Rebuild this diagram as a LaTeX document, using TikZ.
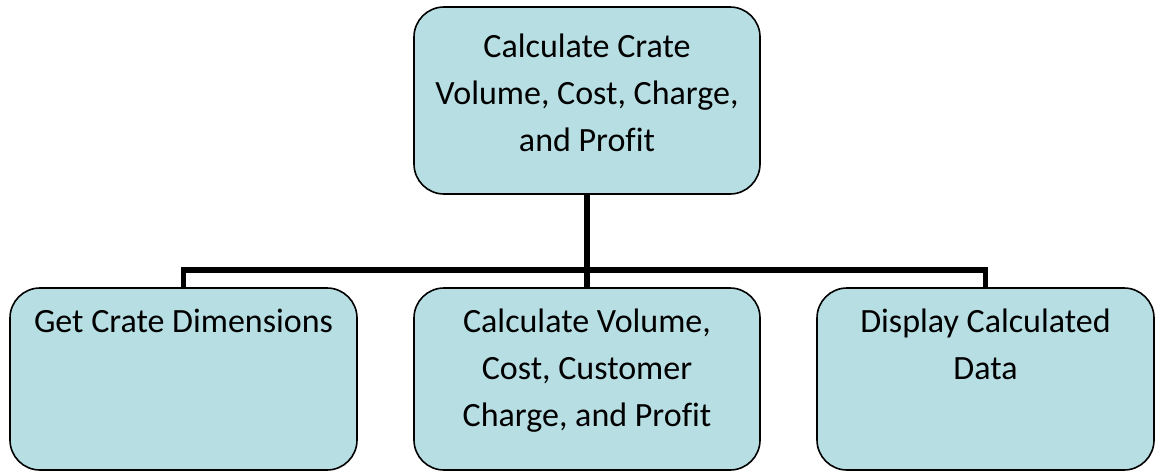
\documentclass[tikz,border=0pt]{standalone}
\usepackage{fontspec}
\setmainfont[Ligatures=NoCommon]{Carlito}
\definecolor{boxfill}{HTML}{B7DEE3}
\tikzset{
  box/.style={draw=black, line width=1.6pt, fill=boxfill, rounded corners=30pt, inner sep=0pt, rectangle},
  txt/.style={inner sep=0pt, anchor=base, font=\fontsize{34}{47}\selectfont},
  conn/.style={draw=black, line width=5.5pt, line join=miter, line cap=butt}
}
\begin{document}
\begin{tikzpicture}[x=1pt, y=-1pt]
\useasboundingbox (0,0) rectangle (1155,472);
\node[box, minimum width=346pt, minimum height=187pt] (top) at (587,100.5) {};
\node[box, minimum width=347pt, minimum height=182pt] (b1) at (183.5,379) {};
\node[box, minimum width=346pt, minimum height=182pt] (b2) at (587,379) {};
\node[box, minimum width=337pt, minimum height=182pt] (b3) at (985.5,379) {};
\coordinate (bus) at (587,270);
\draw[conn] (top.south) -- (bus);
\draw[conn] (b1.north) -- (b1.north |- bus) -- (b3.north |- bus) -- (b3.north);
\draw[conn] (bus) -- (b2.north);
\node[txt] (ttop) at (587,57) {\parbox[t]{340pt}{\centering Calculate Crate\\Volume, Cost, Charge,\\and Profit}};
\node[txt] (t1) at (183.5,332) {\parbox[t]{340pt}{\centering Get Crate Dimensions}};
\node[txt] (t2) at (587,332) {\parbox[t]{340pt}{\centering Calculate Volume,\\Cost, Customer\\Charge, and Profit}};
\node[txt] (t3) at (985.5,332) {\parbox[t]{330pt}{\centering Display Calculated\\Data}};
\end{tikzpicture}
\end{document}
